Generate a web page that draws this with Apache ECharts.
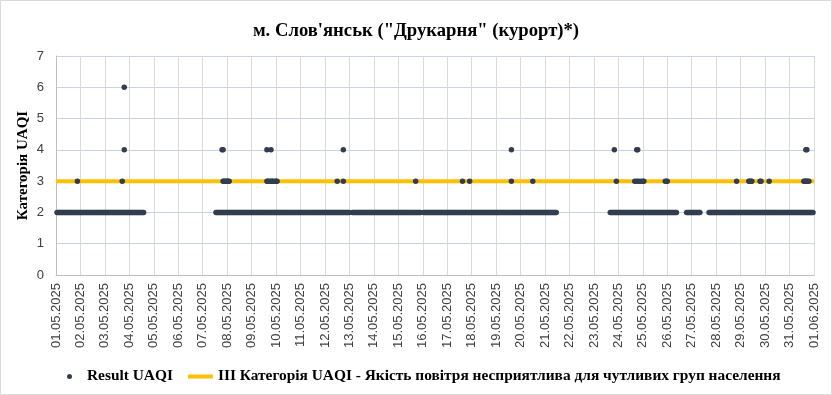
<!DOCTYPE html>
<html>
<head>
<meta charset="utf-8">
<script src="https://cdn.jsdelivr.net/npm/echarts@6/dist/echarts.min.js"></script>
<style>
html,body{margin:0;padding:0;background:#fff;}
#chart{width:832px;height:395px;}
</style>
</head>
<body>
<div id="chart"></div>
<script>
// Tick labels of the x axis (one per day boundary)
const dateLabels = [
  '01.05.2025','02.05.2025','03.05.2025','04.05.2025','05.05.2025','06.05.2025','07.05.2025','08.05.2025',
  '09.05.2025','10.05.2025','11.05.2025','12.05.2025','13.05.2025','14.05.2025','15.05.2025','16.05.2025',
  '17.05.2025','18.05.2025','19.05.2025','20.05.2025','21.05.2025','22.05.2025','23.05.2025','24.05.2025',
  '25.05.2025','26.05.2025','27.05.2025','28.05.2025','29.05.2025','30.05.2025','31.05.2025','01.06.2025'
];

// Hourly UAQI category per day (24 chars per day, '.' = no data)
const hourlyByDay = [
  '.22222222222222222222222', // 01.05
  '222222222222222222222222', // 02.05
  '222222222222222222222222', // 03.05
  '222222222222222.........', // 04.05
  '........................', // 05.05
  '........................', // 06.05
  '.............22222222222', // 07.05
  '222222222222222222222222', // 08.05
  '222222222222222222222222', // 09.05
  '222222222222222222222222', // 10.05
  '222222222222222222222222', // 11.05
  '222222222222222222222222', // 12.05
  '2..222222222222222222222', // 13.05
  '222222222222222222222222', // 14.05
  '22222222222222222222222.', // 15.05
  '.22222222222222222222222', // 16.05
  '222222222222222222222222', // 17.05
  '222222222222222222222222', // 18.05
  '222222222222222222222222', // 19.05
  '222222222222222222222222', // 20.05
  '222222222222............', // 21.05
  '........................', // 22.05
  '................22222222', // 23.05
  '222222222222222222222222', // 24.05
  '222222222222222222222222', // 25.05
  '2222222222.........22222', // 26.05
  '222222222........2222222', // 27.05
  '222222222222222222222222', // 28.05
  '222222222222222222222222', // 29.05
  '222222222222222222222222', // 30.05
  '222222222222222222222222'  // 31.05
];

// Additional readings (hour offset from 01.05.2025 00:00) with elevated categories
const hoursCategory3 = [21, 65, 164, 165, 166, 167, 168, 169, 170, 207, 208, 209, 211, 212, 213, 215, 216, 217,
  276, 282, 353, 399, 406, 447, 468, 550, 568, 570, 572, 574, 576, 577, 598, 599, 600, 668,
  680, 681, 682, 683, 691, 692, 700, 734, 735, 736, 737, 738, 739];
const hoursCategory4 = [67, 163, 164, 207, 211, 282, 447, 548, 570, 571, 736, 737];
const hoursCategory6 = [67];

// Threshold: III category
const thresholdCategory = 3;

const seriesScatterName = 'Result UAQI';
const seriesLineName = 'III Категорія UAQI - Якість повітря несприятлива для чутливих груп населення';

const points = [];
hourlyByDay.forEach(function (s, d) {
  for (let i = 0; i < s.length; i++) {
    const c = s.charAt(i);
    if (c !== '.') points.push([d * 24 + i, Number(c)]);
  }
});
hoursCategory3.forEach(function (h) { points.push([h, 3]); });
hoursCategory4.forEach(function (h) { points.push([h, 4]); });
hoursCategory6.forEach(function (h) { points.push([h, 6]); });

const totalHours = (dateLabels.length - 1) * 24;
const thresholdData = [[0, thresholdCategory], [totalHours, thresholdCategory]];

const serif = "'Liberation Serif','Times New Roman',serif";
const sans = "'Liberation Sans',Arial,sans-serif";

const chart = echarts.init(document.getElementById('chart'), null, {renderer: 'canvas'});
chart.setOption({
  animation: false,
  backgroundColor: '#ffffff',
  graphic: [{
    type: 'rect', silent: true,
    shape: {x: 0.5, y: 0.5, width: 831, height: 394},
    style: {fill: 'none', stroke: '#D9D9D9', lineWidth: 1}
  }],
  title: {
    text: 'м. Слов\'янськ ("Друкарня" (курорт)*)',
    left: 'center', top: 17,
    textStyle: {fontFamily: serif, fontWeight: 'bold', fontSize: 18.67, color: '#000'}
  },
  grid: {left: 56, right: 18, top: 56, bottom: 120, containLabel: false},
  legend: {
    left: 62, top: 364,
    itemWidth: 25, itemHeight: 5, itemGap: 15,
    textStyle: {fontFamily: serif, fontWeight: 'bold', fontSize: 15.4, color: '#000'},
    data: [
      {name: seriesScatterName, icon: 'circle'},
      {name: seriesLineName, icon: 'path://M0,0H25V4H0Z'}
    ]
  },
  xAxis: {
    type: 'value', min: 0, max: totalHours, interval: 24,
    axisLine: {show: true, lineStyle: {color: '#BFBFBF', width: 1}},
    axisTick: {show: false},
    splitLine: {show: true, lineStyle: {color: '#D9D9D9', width: 1}},
    axisLabel: {
      rotate: 90, margin: 8, fontFamily: sans, fontSize: 13, color: '#404040',
      formatter: function (v) { return dateLabels[Math.round(v / 24)]; }
    }
  },
  yAxis: {
    type: 'value', min: 0, max: 7, interval: 1,
    name: 'Категорія UAQI', nameLocation: 'middle', nameGap: 25, nameMoveOverlap: false,
    nameTextStyle: {fontFamily: serif, fontWeight: 'bold', fontSize: 15, color: '#000'},
    axisLine: {show: true, lineStyle: {color: '#BFBFBF', width: 1}},
    axisTick: {show: false},
    splitLine: {show: true, lineStyle: {color: '#C9D3E7', width: 1}},
    axisLabel: {margin: 12, fontFamily: sans, fontSize: 13, color: '#404040'}
  },
  series: [
    {
      name: seriesLineName, type: 'line', data: thresholdData,
      symbol: 'none', z: 2,
      lineStyle: {color: '#FFC000', width: 4},
      itemStyle: {color: '#FFC000'}
    },
    {
      name: seriesScatterName, type: 'scatter', data: points,
      symbol: 'circle', symbolSize: 5.5, z: 3,
      itemStyle: {color: '#323E4F', opacity: 1}
    }
  ]
});
</script>
</body>
</html>
